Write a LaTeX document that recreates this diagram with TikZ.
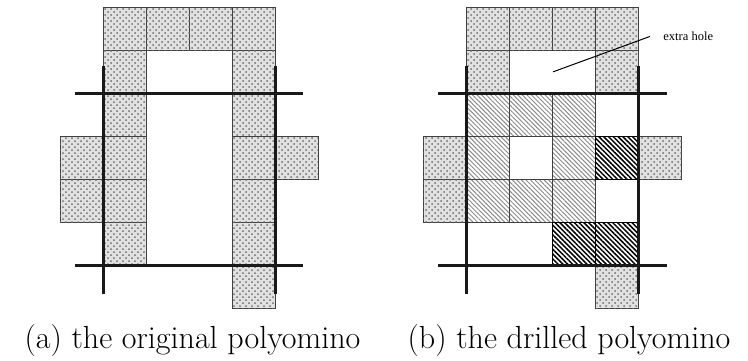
\documentclass[tikz,border=0pt]{standalone}
\definecolor{cellgray}{RGB}{225,225,225}
\definecolor{dotgray}{RGB}{110,110,110}
\definecolor{hatchgray}{RGB}{140,140,140}
\usepackage{fontspec}
\newfontfamily\labelfont{Liberation Serif}
\usepackage{tikz}
\usetikzlibrary{patterns,patterns.meta}

\tikzset{
    dotcell/.style={draw=black!75, line width=0.5pt, fill=cellgray,
        postaction={pattern=crosshatch dots, pattern color=dotgray}},
    hatchcell/.style={draw=black!75, line width=0.5pt,
        pattern={Lines[angle=-45,distance=1.6pt,line width=0.5pt]}, pattern color=hatchgray},
    darkcell/.style={draw=black, line width=0.5pt,
        pattern={Lines[angle=-45,distance=1.7pt,line width=0.75pt]}, pattern color=black},
    cutline/.style={line width=1.5pt, black!90},
    caption/.style={font=\fontsize{16}{19}\selectfont, anchor=base, inner sep=0pt}
}

\begin{document}
\begin{tikzpicture}[x=0.5pt, y=-0.5pt]
    \useasboundingbox (0,0) rectangle (748,360);

    % (a) the original polyomino
    \begin{scope}[shift={(60,7.3)}, x=21.5pt, y=-21.5pt]
        \foreach \c/\r in {1/0,2/0,3/0,4/0,1/1,4/1,1/2,4/2,0/3,1/3,4/3,5/3,0/4,1/4,4/4,1/5,4/5,4/6}
            \draw[dotcell] (\c,\r) rectangle ++(1,1);
        \draw[cutline] (1,1.365) -- (1,6.67);
        \draw[cutline] (5,1.365) -- (5,6.67);
        \draw[cutline] (0.35,2) -- (5.66,2);
        \draw[cutline] (0.35,6) -- (5.66,6);
    \end{scope}

    % (b) the drilled polyomino
    \begin{scope}[shift={(423.3,7.3)}, x=21.5pt, y=-21.5pt]
        \foreach \c/\r in {1/0,2/0,3/0,4/0,1/1,4/1,0/3,5/3,0/4,4/6}
            \draw[dotcell] (\c,\r) rectangle ++(1,1);
        \foreach \c/\r in {1/2,2/2,3/2,1/3,3/3,1/4,2/4,3/4}
            \draw[hatchcell] (\c,\r) rectangle ++(1,1);
        \foreach \c/\r in {4/3,3/5,4/5}
            \draw[darkcell] (\c,\r) rectangle ++(1,1);
        \draw[cutline] (1,1.365) -- (1,6.67);
        \draw[cutline] (5,1.365) -- (5,6.67);
        \draw[cutline] (0.35,2) -- (5.66,2);
        \draw[cutline] (0.35,6) -- (5.66,6);
        \coordinate (holept) at (3.02,1.5);
    \end{scope}

    \node[anchor=base west, inner sep=0pt, font=\labelfont\fontsize{6.25}{7.5}\selectfont] (hole) at (663,40.7) {extra hole};
    \draw[line width=0.5pt] (holept) -- ([xshift=-6.5pt]hole.west);

    \node[caption] (capa) at (192.5,348) {(a) the original polyomino};
    \node[caption] (capb) at (569,348) {(b) the drilled polyomino};
\end{tikzpicture}
\end{document}
